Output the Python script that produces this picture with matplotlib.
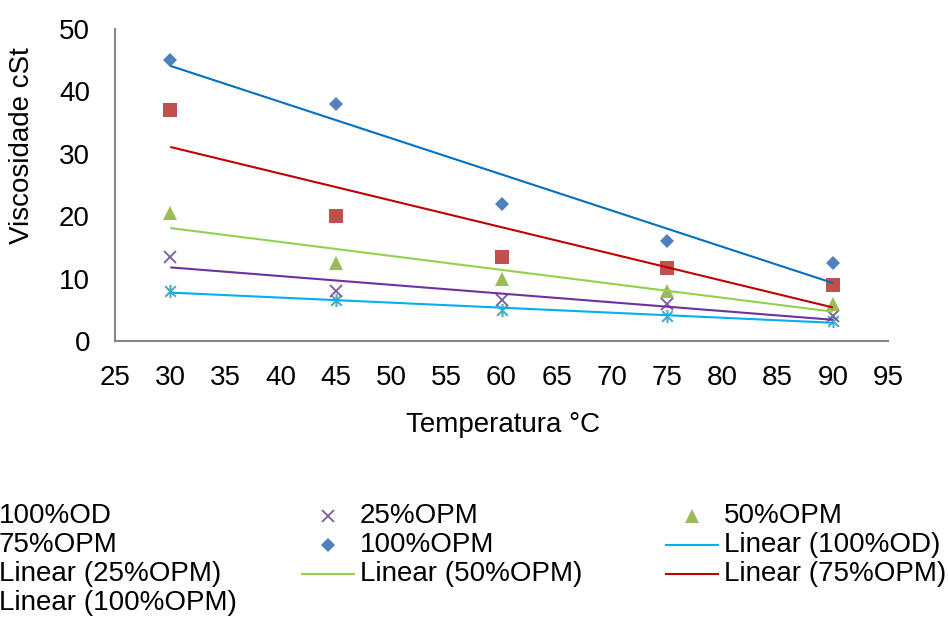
import numpy as np
import matplotlib
matplotlib.use("Agg")
import matplotlib.pyplot as plt
from matplotlib.path import Path
from matplotlib.lines import Line2D

plt.rcParams['font.family'] = ['Liberation Sans', 'DejaVu Sans']

temperature = [30, 45, 60, 75, 90]
od100 = [8.0, 6.5, 5.0, 4.0, 3.2]
opm25 = [13.5, 8.0, 6.5, 6.0, 4.0]
opm50 = [20.5, 12.5, 10.0, 8.0, 6.0]
opm75 = [37.0, 20.0, 13.5, 11.7, 9.0]
opm100 = [45.0, 38.0, 22.0, 16.0, 12.5]
series_names = ['100%OD', '25%OPM', '50%OPM', '75%OPM', '100%OPM']
x_ticks = [25, 30, 35, 40, 45, 50, 55, 60, 65, 70, 75, 80, 85, 90, 95]
y_ticks = [0, 10, 20, 30, 40, 50]

asterisk = Path([(-0.8, -0.8), (0.8, 0.8), (-0.8, 0.8), (0.8, -0.8), (0, -1), (0, 1)],
                [Path.MOVETO, Path.LINETO, Path.MOVETO, Path.LINETO, Path.MOVETO, Path.LINETO])

styles = [
    dict(marker=asterisk, ms=9.5, mfc='none', mec='#4BACC6', mew=1.5),
    dict(marker='x', ms=8.5, mfc='none', mec='#8064A2', mew=1.4),
    dict(marker='^', ms=9.5, mfc='#9BBB59', mec='#9BBB59', mew=0),
    dict(marker='s', ms=9.5, mfc='#C0504D', mec='#C0504D', mew=0),
    dict(marker='D', ms=7, mfc='#4F81BD', mec='#4F81BD', mew=0),
]
trend_colors = ['#00B0F0', '#7030A0', '#92D050', '#C00000', '#0070C0']

FS = 20
W, H = 948, 617
fig = plt.figure(figsize=(W / 100, H / 100), dpi=100)
ax = fig.add_axes([115 / W, 1 - 341 / H, (888 - 115) / W, (341 - 29) / H])

data = [od100, opm25, opm50, opm75, opm100]
x = np.array(temperature, dtype=float)
for vals, st in zip(data, styles):
    ax.plot(x, vals, linestyle='none', zorder=3, **st)
for vals, c in zip(data, trend_colors):
    k, b = np.polyfit(x, vals, 1)
    xs = np.array([x.min(), x.max()])
    ax.plot(xs, k * xs + b, color=c, lw=1.5, zorder=4, solid_capstyle='butt')

ax.set_xlim(25, 95)
ax.set_ylim(0, 50)
ax.set_xticks(x_ticks)
ax.set_yticks(y_ticks)
ax.tick_params(axis='both', length=0, labelsize=FS)
ax.tick_params(axis='x', pad=17)
ax.tick_params(axis='y', pad=18)
for s in ['top', 'right']:
    ax.spines[s].set_visible(False)
for s in ['left', 'bottom']:
    ax.spines[s].set_color('#868686')
    ax.spines[s].set_linewidth(1.5)

fig.text(22 / W, 1 - 146 / H, 'Viscosidade cSt', rotation=90, ha='center', va='center', fontsize=FS)
fig.text(503 / W, 1 - 425 / H, 'Temperatura °C', ha='center', va='center', fontsize=FS)

# legend (3 columns, row-wise, partially cut at the left like the reference)
entries = [(n, st, None) for n, st in zip(series_names, styles)] + \
          [('Linear (' + n + ')', None, c) for n, c in zip(series_names, trend_colors)]
col_text_x = [-1, 360, 724]
row_y = [516, 545, 574, 603]
for i, (label, st, col) in enumerate(entries):
    r, c = divmod(i, 3)
    tx = col_text_x[c]
    ty = row_y[r]
    x0, x1 = tx - 58, tx - 6
    if st is not None:
        fig.add_artist(Line2D([(x0 + x1) / 2 / W], [1 - ty / H], linestyle='none',
                              transform=fig.transFigure, **st))
    else:
        fig.add_artist(Line2D([x0 / W, x1 / W], [1 - ty / H, 1 - ty / H], color=col, lw=1.5,
                              transform=fig.transFigure))
    fig.text(tx / W, 1 - ty / H, label, ha='left', va='center', fontsize=FS)

fig.savefig('out.png', dpi=100)
